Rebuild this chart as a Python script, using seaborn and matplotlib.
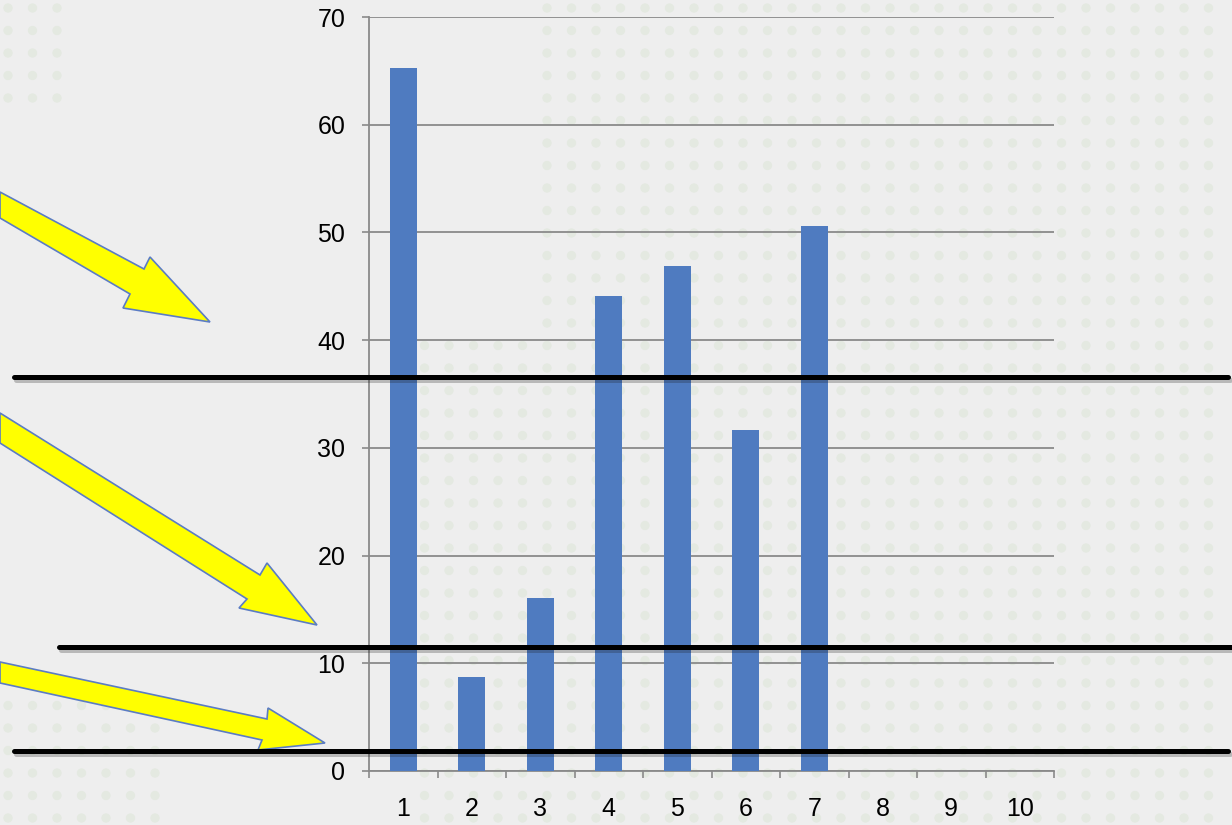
import numpy as np
import pandas as pd
import matplotlib
matplotlib.use("Agg")
import matplotlib.pyplot as plt
import matplotlib.patheffects as pe
from matplotlib.patches import Polygon
import seaborn as sns

# Data
categories = ["1", "2", "3", "4", "5", "6", "7", "8", "9", "10"]
values = [65.3, 8.7, 16.1, 44.1, 46.9, 31.7, 50.6, np.nan, np.nan, np.nan]
y_ticks = [0, 10, 20, 30, 40, 50, 60, 70]
# reference levels marked by the horizontal black lines
levels = [36.6, 11.5, 1.85]

sns.set_theme(style="white")
plt.rcParams["font.family"] = ["Liberation Sans", "DejaVu Sans"]

BG = "#eeeeee"
W, H = 1232, 825
fig = plt.figure(figsize=(W / 100, H / 100), dpi=100, facecolor=BG)

# background layer in pixel coordinates (dots + arrows)
bg = fig.add_axes([0, 0, 1, 1], zorder=0)
bg.set_xlim(0, W)
bg.set_ylim(H, 0)
bg.axis("off")
bg.set_facecolor(BG)

# faint dotted texture
xs = np.arange(8, W, 24.5)
ys = np.arange(8, H, 22.5)
gx, gy = np.meshgrid(xs, ys)
gx, gy = gx.ravel(), gy.ravel()
mask = (((gy < 330) & (gx > 540)) | ((gy >= 330) & (gx > 420))
        | ((gx < 170) & (gy > 690)) | ((gx < 60) & (gy < 110)))
bg.scatter(gx[mask], gy[mask], s=45, color="#e4e9e1", edgecolors="none", zorder=0)

# yellow pointer arrows
arrows = [
    [(0, 192), (144, 269), (150, 257), (210, 322), (123, 308), (130, 294), (0, 218)],
    [(0, 413), (260, 575), (267, 563), (317, 625), (239, 608), (247, 599), (0, 443)],
    [(0, 662), (267, 719), (268, 708), (325, 743), (258, 750), (262, 740), (0, 683)],
]
for pts in arrows:
    bg.add_patch(Polygon(pts, closed=True, facecolor="#ffff00",
                         edgecolor="#5b7cc4", linewidth=1.2, zorder=2))

# main chart
left, right, top, bottom = 369, 1054, 17, 771
ax = fig.add_axes([left / W, (H - bottom) / H, (right - left) / W, (bottom - top) / H],
                  zorder=1)
ax.set_facecolor("none")

df = pd.DataFrame({"cat": categories, "val": values})
sns.barplot(data=df, x="cat", y="val", order=categories, color="#4f7bc0",
            width=0.4, saturation=1, linewidth=0, ax=ax, zorder=3)

ax.set_xlim(-0.5, len(categories) - 0.5)
ax.set_ylim(0, 70)
ax.set_xlabel("")
ax.set_ylabel("")

grid_c = "#8a8a8a"
ax.set_yticks(y_ticks)
ax.set_yticklabels([str(t) for t in y_ticks])
ax.yaxis.grid(True, color=grid_c, linewidth=1.3)
ax.set_axisbelow(True)
ax.tick_params(axis="y", which="major", length=5, width=1.2, color=grid_c,
               pad=12, labelsize=18, labelcolor="black", left=True)

ax.set_xticks(range(len(categories)))
ax.set_xticklabels(categories)
ax.set_xticks(np.arange(-0.5, len(categories) + 0.5, 1), minor=True)
ax.tick_params(axis="x", which="major", length=0, pad=19, labelsize=18,
               labelcolor="black")
ax.tick_params(axis="x", which="minor", length=5, width=1.2, color=grid_c,
               bottom=True)

for side in ["top", "right"]:
    ax.spines[side].set_visible(False)
for side in ["left", "bottom"]:
    ax.spines[side].set_color(grid_c)
    ax.spines[side].set_linewidth(1.3)

# black reference lines extending past the plot area
spans = [(-0.518, 1.254), (-0.4526, 1.27), (-0.518, 1.254)]
for lvl, (x0, x1) in zip(levels, spans):
    ax.axhline(lvl, xmin=x0, xmax=x1, color="black", linewidth=3.6,
               clip_on=False, zorder=5,
               path_effects=[pe.SimpleLineShadow(offset=(1.5, -2), alpha=0.25),
                             pe.Normal()])

fig.savefig("out.png", dpi=100, facecolor=BG)
